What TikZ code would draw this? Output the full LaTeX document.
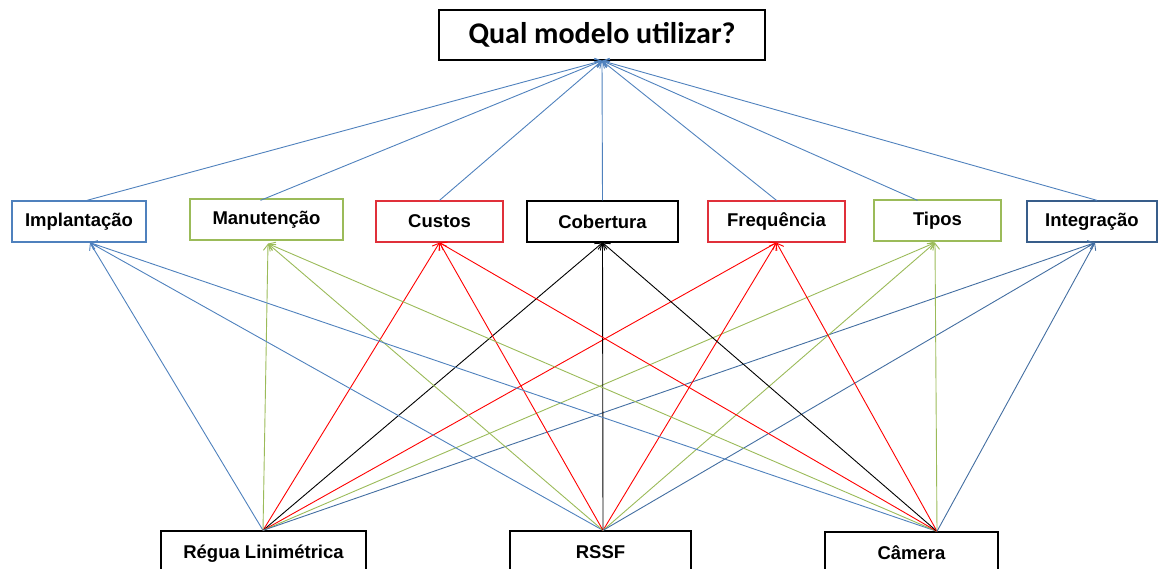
\documentclass[tikz,border=0pt]{standalone}
\usepackage{fontspec}
\setmainfont{Liberation Sans}
\newfontfamily\calib{Carlito}
\usetikzlibrary{arrows.meta}
\definecolor{lblue}{HTML}{4F81BD}
\definecolor{dblue}{HTML}{385D8A}
\definecolor{lgreen}{HTML}{9BBB59}
\definecolor{lred}{HTML}{FF0000}
\definecolor{bred}{HTML}{E0303A}
\begin{document}
\begin{tikzpicture}[x=1pt,y=-1pt,
  box/.style={draw,line width=1.3pt,fill=white,inner sep=0pt,minimum height=41pt,
    font=\fontsize{18.5}{20}\selectfont\bfseries},
  topbox/.style={draw=black,line width=1.5pt,inner sep=0pt,minimum width=326pt,minimum height=50pt,
    font=\calib\fontsize{30}{32}\selectfont\bfseries},
  botbox/.style={draw=black,line width=1.3pt,inner sep=0pt,minimum height=50pt,
    font=\fontsize{18.5}{20}\selectfont\bfseries},
  conn/.style={line width=0.9pt,-{Straight Barb[length=6pt,width=9pt]}}
]
\useasboundingbox (0,0) rectangle (1170,568);

\node[topbox] (q) at (602,35) {Qual modelo utilizar?};

\node[box,draw=lblue,minimum width=134pt] (imp) at (79,221.5) {Implantação};
\node[box,draw=lgreen,minimum width=153pt] (man) at (266.5,219.5) {\raisebox{3pt}{Manutenção}};
\node[box,draw=bred,minimum width=127pt] (cus) at (439.5,221.5) {\raisebox{-1pt}{Custos}};
\node[box,draw=black,minimum width=151pt] (cob) at (602.5,221.5) {Cobertura};
\node[box,draw=bred,minimum width=137pt] (fre) at (776.5,221.5) {Frequência};
\node[box,draw=lgreen,minimum width=127pt] (tip) at (937.5,220.5) {\raisebox{2pt}{Tipos}};
\node[box,draw=dblue,minimum width=130pt] (int) at (1092,221.5) {Integração};

\node[botbox,minimum width=205pt] (reg) at (263.5,556) {\raisebox{8pt}{Régua Linimétrica}};
\node[botbox,minimum width=181pt] (rssf) at (600.5,556) {\raisebox{8pt}{RSSF}};
\node[botbox,minimum width=173pt] (cam) at (911.5,557) {\raisebox{8pt}{Câmera}};

% endpoints
\coordinate (qin) at (q.south);
\coordinate (regout) at ([xshift=-0.5pt]reg.north);
\coordinate (rssfout) at ([xshift=2.5pt]rssf.north);
\coordinate (camout) at ([xshift=25.5pt]cam.north);

\coordinate (impT) at ([xshift=8pt]imp.north);
\coordinate (manT) at ([xshift=-6pt,yshift=-2pt]man.north);
\coordinate (cusT) at (cus.north);
\coordinate (cobT) at (cob.north);
\coordinate (freT) at (fre.north);
\coordinate (tipT) at ([xshift=-20pt,yshift=-1pt]tip.north);
\coordinate (intT) at ([xshift=5pt]int.north);

\coordinate (impB) at ([xshift=11pt]imp.south);
\coordinate (manB) at ([xshift=1.5pt,yshift=-3pt]man.south);
\coordinate (cusB) at (cus.south);
\coordinate (cobB) at (cob.south);
\coordinate (freB) at (fre.south);
\coordinate (tipB) at ([xshift=-2.5pt,yshift=-1pt]tip.south);
\coordinate (intB) at ([xshift=3pt]int.south);

% to the question
\foreach \m in {impT,manT,cusT,cobT,freT,tipT,intT}
  \draw[conn,lblue] (\m) -- (qin);

% from the options
\foreach \s in {regout,rssfout,camout}{
  \draw[conn,lblue] (\s) -- (impB);
  \draw[conn,lgreen] (\s) -- (manB);
  \draw[conn,lred] (\s) -- (cusB);
  \draw[conn,black] (\s) -- (cobB);
  \draw[conn,lred] (\s) -- (freB);
  \draw[conn,lgreen] (\s) -- (tipB);
  \draw[conn,lblue!85!black] (\s) -- (intB);
}
\end{tikzpicture}
\end{document}
